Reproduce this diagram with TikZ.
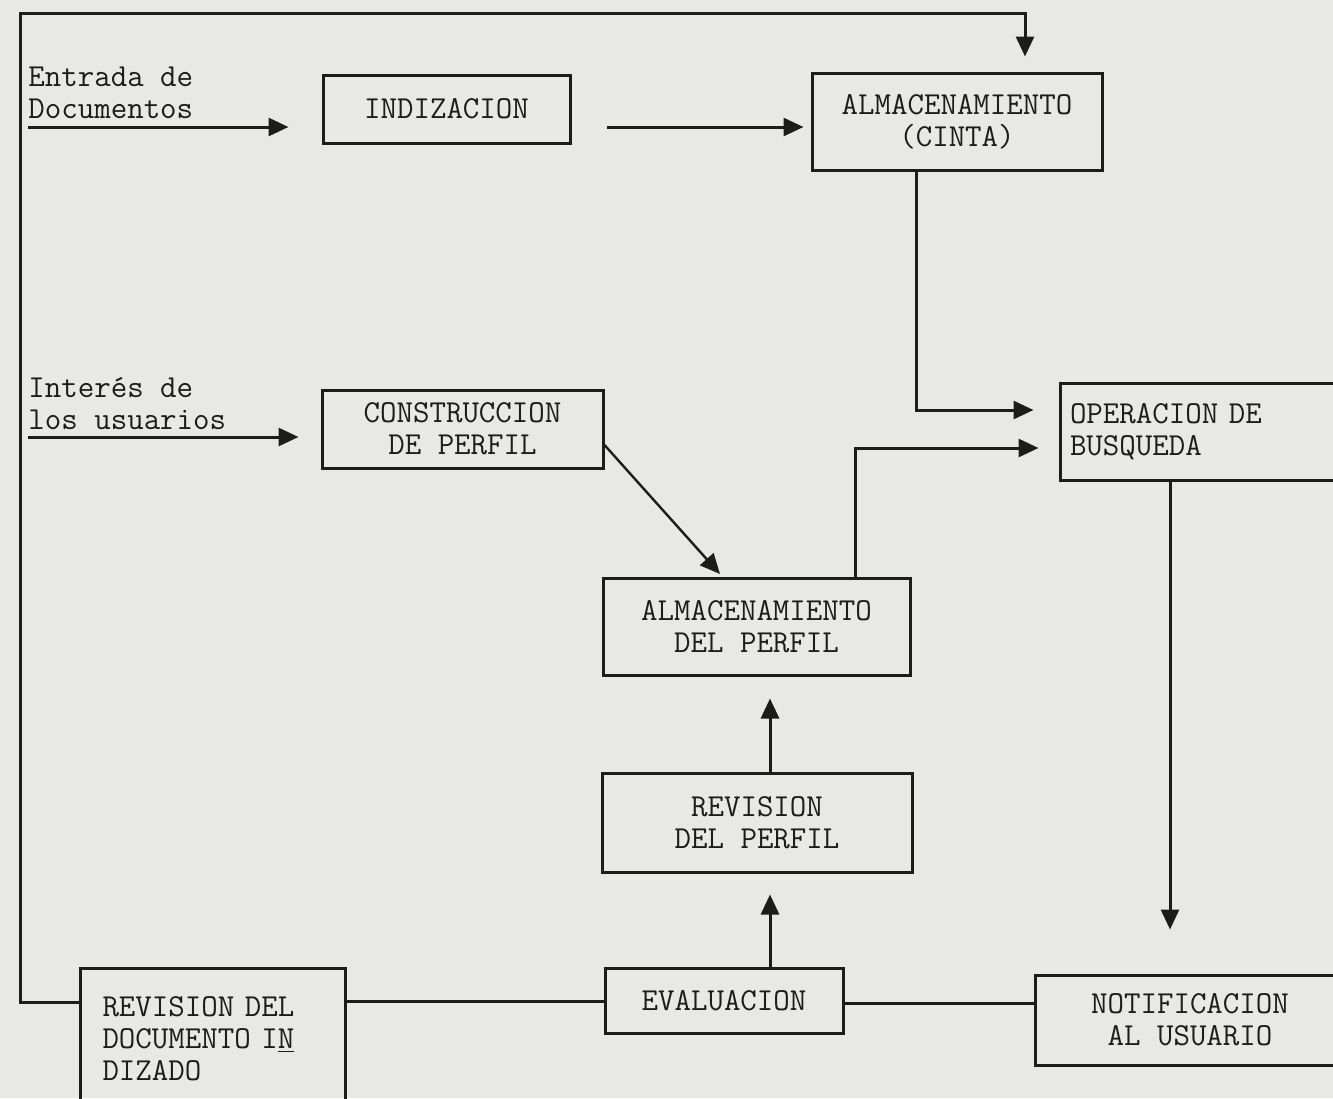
\documentclass[tikz,border=0pt]{standalone}
\usetikzlibrary{arrows.meta}
\definecolor{paper}{HTML}{E8E8E6}
\definecolor{ink}{HTML}{1C1C1C}
\newcommand{\typefont}{\ttfamily\fontsize{16pt}{16pt}\selectfont}
\tikzset{
  box/.style={draw=ink, line width=1.5pt, rectangle, inner sep=5pt, align=center,
    text=ink, font=\typefont},
  lbl/.style={inner sep=0pt, align=left, text=ink, font=\typefont},
  link/.style={draw=ink, line width=1.5pt},
  arr/.style={link, -{Triangle[length=10pt,width=9pt]}},
}
\begin{document}
\begin{tikzpicture}[x=0.5pt, y=-0.5pt]
  \clip (0,0) rectangle (1333,1098);
  \fill[paper] (0,0) rectangle (1333,1098);

  % process boxes
  \node[box, minimum width=123.5pt, minimum height=34pt] (indz) at (446.5,109) {INDIZACION};
  \node[box, minimum width=145pt, minimum height=48.5pt] (almc) at (957,121.5) {ALMACENAMIENTO\\(CINTA)};
  \node[box, minimum width=142.5pt, minimum height=48.5pt, text width=132.5pt, align=left] (oper) at (1202.5,431.5) {OPERACION DE\\BUSQUEDA};
  \node[box, minimum width=140.5pt, minimum height=39pt] (cons) at (462.5,429) {CONSTRUCCION\\DE PERFIL};
  \node[box, minimum width=153.5pt, minimum height=48.5pt] (almp) at (756.5,626.5) {ALMACENAMIENTO\\DEL PERFIL};
  \node[box, minimum width=155pt, minimum height=49.5pt] (revp) at (757,822.5) {REVISION\\DEL PERFIL};
  \node[box, minimum width=119pt, minimum height=32.5pt] (eval) at (724,1000.5) {EVALUACION};
  \node[box, minimum width=132.5pt, minimum height=71pt, text width=110pt, align=left] (revd) at (212.5,1039) {REVISION DEL\\DOCUMENTO I\underline{N}\\DIZADO};
  \node[box, minimum width=155pt, minimum height=45pt] (noti) at (1190,1020) {NOTIFICACION\\AL USUARIO};

  % inputs
  \node[lbl, anchor=north west] (ent) at (28,67) {Entrada de\\Documentos};
  \node[lbl, anchor=north west] (inter) at (28,377) {Interés de\\los usuarios};
  \coordinate (entA) at (28,127);
  \coordinate (intA) at (28,437);
  \draw[arr, shorten >=16.5pt] (entA) -- (entA -| indz.west);
  \draw[arr, shorten >=11pt] (intA) -- (intA -| cons.west);

  % document flow
  \draw[arr, shorten <=17.5pt, shorten >=3.5pt] (indz.east |- 0,127) -- (almc.west |- 0,127);
  \draw[arr, shorten >=12.5pt] (916,0 |- almc.south) -- (916,410) -- (oper.west |- 0,410);

  % profile flow
  \draw[link, line width=1.2pt, -{Triangle[length=10pt,width=9pt]}] (cons.east |- 0,445) -- (720,574);
  \draw[arr, shorten >=10pt] (855,0 |- almp.north) -- (855,448) -- (oper.west |- 0,448);
  \draw[arr, shorten >=11pt] (revp.north -| 770,0) -- (almp.south -| 770,0);
  \draw[arr, shorten >=10.5pt] (eval.north -| 770,0) -- (revp.south -| 770,0);

  % notification and feedback
  \draw[arr, shorten >=22pt] (oper.south -| 1170,0) -- (noti.north -| 1170,0);
  \draw[link] (eval.west |- 0,1001) -- (revd.east |- 0,1001);
  \draw[link] (eval.east |- 0,1003) -- (noti.west |- 0,1003);
  \draw[arr, shorten >=7.5pt] (revd.west |- 0,1002) -- (20,1002) -- (20,13) -- (1025,13) -- (1025,0 |- almc.north);
\end{tikzpicture}
\end{document}
